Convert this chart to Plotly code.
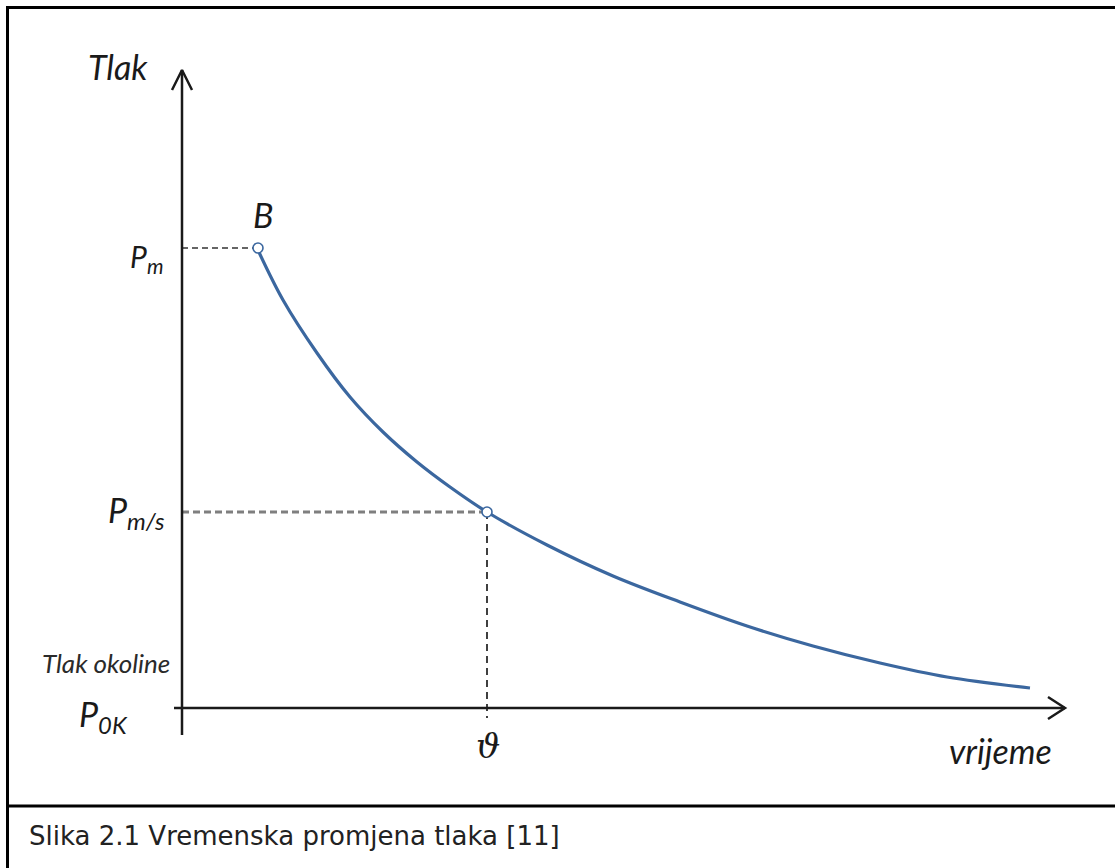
import plotly.graph_objects as go

# ---- data (time, pressure) in arbitrary units, origin at axis intersection ----
curve_t = [75, 101, 135, 168, 201, 235, 268, 305, 365, 431, 498, 565, 631, 698, 765, 848]
curve_p = [460, 408, 355, 311, 276, 246, 221, 196, 163, 132, 106, 82, 62, 45, 31, 20]
point_names = ["B", "theta"]
point_t = [76, 305]
point_p = [460, 196]

# canvas mapping (pixel-like units)
W, H = 1115, 868
OX, OY = 182, 708  # pixel position of origin
x_range = [-OX, W - OX]
y_range = [OY - H, OY]

AX = "#1a1a1a"
BLUE = "#3b679f"

fig = go.Figure()

# guide lines
fig.add_trace(go.Scatter(x=[0, point_t[0]], y=[point_p[0], point_p[0]], mode="lines",
                         line=dict(color="#333333", width=1.6, dash="6px,4px"),
                         hoverinfo="skip", showlegend=False))
fig.add_trace(go.Scatter(x=[0, point_t[1]], y=[point_p[1], point_p[1]], mode="lines",
                         line=dict(color="#7f7f7f", width=3, dash="7px,4px"),
                         hoverinfo="skip", showlegend=False))
fig.add_trace(go.Scatter(x=[point_t[1], point_t[1]], y=[point_p[1], -10], mode="lines",
                         line=dict(color="#111111", width=1.6, dash="7px,5px"),
                         hoverinfo="skip", showlegend=False))

# axes
fig.add_trace(go.Scatter(x=[0, 0], y=[-27, 638], mode="lines",
                         line=dict(color=AX, width=2.5), hoverinfo="skip", showlegend=False))
fig.add_trace(go.Scatter(x=[-10, 0, 10], y=[618, 638, 618], mode="lines",
                         line=dict(color=AX, width=2.5), hoverinfo="skip", showlegend=False))
fig.add_trace(go.Scatter(x=[-8, 883], y=[0, 0], mode="lines",
                         line=dict(color=AX, width=2.5), hoverinfo="skip", showlegend=False))
fig.add_trace(go.Scatter(x=[866, 883, 866], y=[11, 0, -11], mode="lines",
                         line=dict(color=AX, width=2.5), hoverinfo="skip", showlegend=False))

# curve
fig.add_trace(go.Scatter(x=curve_t, y=curve_p, mode="lines",
                         line=dict(color=BLUE, width=3.2, shape="spline", smoothing=1.0),
                         hoverinfo="skip", showlegend=False))
fig.add_trace(go.Scatter(x=point_t, y=point_p, mode="markers",
                         marker=dict(symbol="circle", size=10, color="white",
                                     line=dict(color=BLUE, width=1.6)),
                         hoverinfo="skip", showlegend=False))

# frame
def px(xp):
    return xp / W
def py(yp):
    return 1 - yp / H

frame = dict(color="black", width=3)
fig.add_shape(type="line", xref="paper", yref="paper", x0=px(7), x1=px(W + 5), y0=py(7.5), y1=py(7.5), line=frame)
fig.add_shape(type="line", xref="paper", yref="paper", x0=px(7.5), x1=px(7.5), y0=py(6), y1=py(H + 5), line=frame)
fig.add_shape(type="line", xref="paper", yref="paper", x0=px(7), x1=px(W + 5), y0=py(806), y1=py(806), line=frame)

IT = "Lato"
def lab(text, x, y, size, xanchor="center", yanchor="middle", font=IT, italic=True, color="#1a1a1a"):
    fig.add_annotation(text=text, xref="paper", yref="paper", x=px(x), y=py(y),
                       xanchor=xanchor, yanchor=yanchor, showarrow=False,
                       font=dict(family=font, size=size, color=color,
                                 style="italic" if italic else "normal"))

lab("Tlak", 118, 66, 34)
lab("B", 263, 214, 34)
lab("P<sub>m</sub>", 165, 258, 30, xanchor="right")
lab("P<sub>m/s</sub>", 167, 512, 34, xanchor="right")
lab("Tlak okoline", 106, 663, 26, color="#2a2a2a")
lab("P<sub>0K</sub>", 130, 716, 34, xanchor="right")
lab("ϑ", 488, 746, 34, font="DejaVu Serif")
lab("vrijeme", 1000, 750, 34)
lab("Slika 2.1 Vremenska promjena tlaka [11]", 27, 836, 26, xanchor="left",
    font="DejaVu Sans", italic=False, color="#222222")

fig.update_layout(
    width=W, height=H,
    margin=dict(l=0, r=0, t=0, b=0),
    paper_bgcolor="white", plot_bgcolor="white",
    xaxis=dict(range=x_range, visible=False, fixedrange=True),
    yaxis=dict(range=y_range, visible=False, fixedrange=True),
    showlegend=False,
)

fig.write_html("out.html", config={"displayModeBar": False},
               post_script="document.body.style.margin='0';document.body.style.overflow='hidden';")
